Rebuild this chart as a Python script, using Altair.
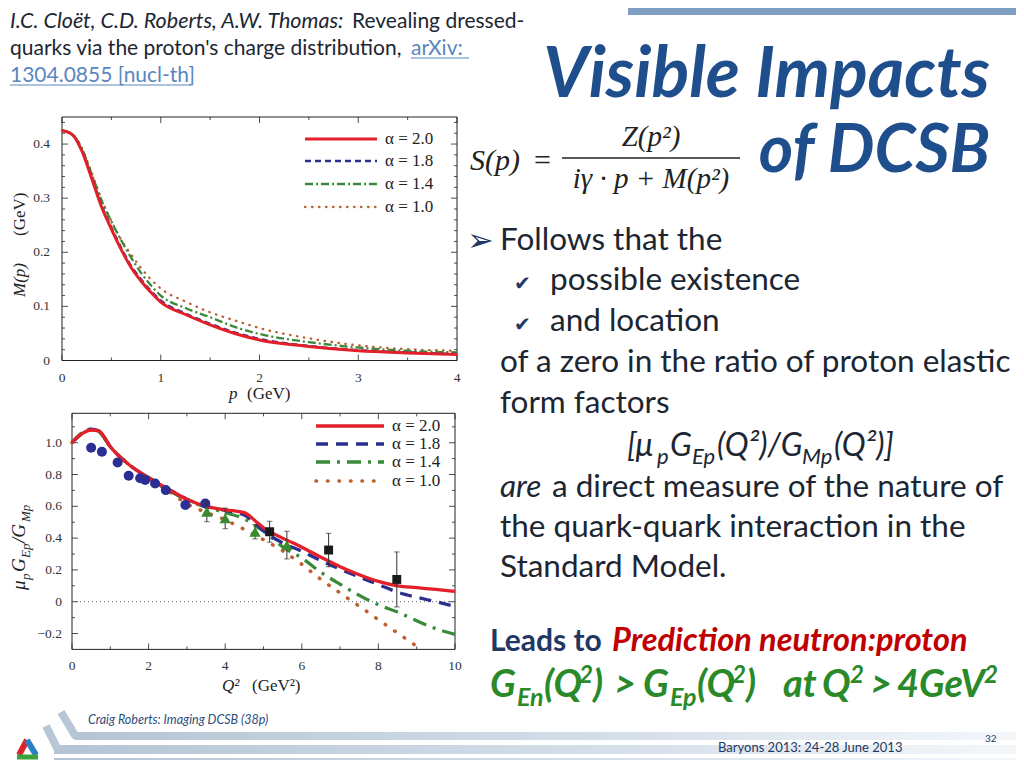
import altair as alt
import pandas as pd

OFF = 8  # page margin

# ---------------- data: panel 1, M(p) ----------------
p_vals = [0, 0.1, 0.2, 0.3, 0.4, 0.5, 0.6, 0.7, 0.8, 0.9, 1.0, 1.25, 1.5, 1.75, 2.0, 2.5, 3.0, 3.5, 4.0]
M_a20 = [0.425, 0.418, 0.388, 0.337, 0.284, 0.243, 0.205, 0.172, 0.147, 0.126, 0.108, 0.085, 0.066, 0.050, 0.038, 0.026, 0.018, 0.014, 0.011]
M_a18 = [0.425, 0.418, 0.389, 0.339, 0.287, 0.246, 0.208, 0.175, 0.150, 0.129, 0.111, 0.087, 0.068, 0.052, 0.040, 0.027, 0.019, 0.015, 0.012]
M_a14 = [0.425, 0.419, 0.392, 0.345, 0.296, 0.257, 0.222, 0.190, 0.162, 0.139, 0.120, 0.097, 0.080, 0.062, 0.049, 0.034, 0.024, 0.018, 0.015]
M_a10 = [0.425, 0.419, 0.393, 0.347, 0.298, 0.258, 0.223, 0.196, 0.171, 0.150, 0.133, 0.109, 0.089, 0.074, 0.060, 0.041, 0.028, 0.021, 0.018]

# ---------------- data: panel 2, mu_p G_Ep / G_Mp ----------------
Q_vals = [0, 0.25, 0.5, 0.7, 1.0, 1.5, 2.0, 2.5, 3.0, 3.5, 4.0, 4.5, 4.8, 5.0, 5.5, 6.0, 6.5, 7.0, 7.5, 8.0, 8.5, 9.0, 9.5, 10]
R_a20 = [1.0, 1.055, 1.08, 1.075, 0.975, 0.86, 0.78, 0.71, 0.645, 0.6, 0.578, 0.56, 0.505, 0.465, 0.40, 0.343, 0.28, 0.22, 0.17, 0.128, 0.10, 0.088, 0.077, 0.065]
R_a18 = [1.0, 1.055, 1.085, 1.075, 0.975, 0.86, 0.78, 0.71, 0.645, 0.6, 0.575, 0.545, 0.49, 0.445, 0.37, 0.318, 0.258, 0.205, 0.155, 0.108, 0.06, 0.028, 0.0, -0.03]
R_a14 = [1.0, 1.06, 1.085, 1.07, 0.975, 0.86, 0.78, 0.705, 0.64, 0.595, 0.56, 0.52, 0.475, 0.445, 0.345, 0.275, 0.185, 0.11, 0.04, -0.02, -0.065, -0.12, -0.17, -0.205]
Q_a10 = [0, 0.25, 0.5, 0.7, 1.0, 1.5, 2.0, 2.5, 3.0, 3.5, 4.0, 4.5, 5.0, 5.5, 6.0, 6.5, 7.0, 7.5, 8.0, 8.5, 9.0]
R_a10 = [1.0, 1.055, 1.08, 1.07, 0.975, 0.86, 0.775, 0.70, 0.615, 0.562, 0.515, 0.455, 0.39, 0.32, 0.235, 0.14, 0.055, -0.028, -0.113, -0.197, -0.28]

circ_Q = [0.5, 0.78, 1.19, 1.48, 1.78, 1.91, 2.17, 2.45, 2.96, 3.48]
circ_R = [0.968, 0.943, 0.876, 0.792, 0.776, 0.765, 0.744, 0.702, 0.608, 0.618]
tri_Q = [3.52, 4.0, 4.78, 5.61]
tri_R = [0.566, 0.524, 0.44, 0.356]
tri_E = [0.063, 0.065, 0.045, 0.087]
sq_Q = [5.16, 6.7, 8.48]
sq_R = [0.44, 0.325, 0.14]
sq_E = [0.066, 0.105, 0.173]

alpha_labels = ["α = 2.0", "α = 1.8", "α = 1.4", "α = 1.0"]

# tick values / labels
x1_major = [0, 1, 2, 3, 4]
x1_labels = ["0", "1", "2", "3", "4"]
x1_minor = [0.5, 1.5, 2.5, 3.5]
y1_major = [0, 0.1, 0.2, 0.3, 0.4]
y1_labels = ["0", "0.1", "0.2", "0.3", "0.4"]
y1_minor = [0.02, 0.04, 0.06, 0.08, 0.12, 0.14, 0.16, 0.18, 0.22, 0.24, 0.26, 0.28,
            0.32, 0.34, 0.36, 0.38, 0.42, 0.44]
x2_major = [0, 2, 4, 6, 8, 10]
x2_labels = ["0", "2", "4", "6", "8", "10"]
x2_minor = [1, 3, 5, 7, 9]
y2_major = [-0.2, 0, 0.2, 0.4, 0.6, 0.8, 1.0]
y2_labels = ["−0.2", "0", "0.2", "0.4", "0.6", "0.8", "1.0"]
y2_minor = [-0.1, 0.1, 0.3, 0.5, 0.7, 0.9, 1.1]

# ---------------- styles ----------------
RED, BLUE, GREEN, ORANGE = "#e3202a", "#2b2f8f", "#3a8a3a", "#bf5f2f"
SERIF = "Liberation Serif"
SANS = "Lato"
DARK = "#1c2632"
NAVY = "#1f3864"
TITLE = "#1f4e8c"
INK = "#222222"

ONE = alt.Data(values=[{"k": 0}])


def P(v):
    return v - OFF


def txt(s, x, y, size, color=DARK, font=SANS, weight="normal", style="normal",
        align="left", baseline="alphabetic", angle=None):
    mk = dict(text=s, fontSize=size, color=color, font=font, fontWeight=weight,
              fontStyle=style, align=align, baseline=baseline)
    if angle is not None:
        mk["angle"] = angle
    return alt.Chart(ONE).mark_text(**mk).encode(x=alt.value(P(x)), y=alt.value(P(y)))


def seg(x1, y1, x2, y2, color, width, dash=None, cap="butt"):
    mk = dict(color=color, strokeWidth=width, strokeCap=cap)
    if dash:
        mk["strokeDash"] = dash
    return alt.Chart(ONE).mark_rule(**mk).encode(
        x=alt.value(P(x1)), y=alt.value(P(y1)), x2=alt.value(P(x2)), y2=alt.value(P(y2)))


def box(x1, y1, x2, y2, fill=None, stroke=None, sw=1):
    mk = {}
    if fill is not None:
        mk["color"] = fill
    else:
        mk["filled"] = False
        mk["stroke"] = stroke
        mk["strokeWidth"] = sw
    return alt.Chart(ONE).mark_rect(**mk).encode(
        x=alt.value(P(x1)), y=alt.value(P(y1)), x2=alt.value(P(x2)), y2=alt.value(P(y2)))


def line(xs, ys, xsc, ysc, color, width, dash=None, cap="butt"):
    df = pd.DataFrame({"x": xs, "y": ys})
    mk = dict(color=color, strokeWidth=width, interpolate="monotone", strokeCap=cap)
    if dash:
        mk["strokeDash"] = dash
    return alt.Chart(df).mark_line(**mk).encode(
        x=alt.X("x:Q", scale=xsc, axis=None), y=alt.Y("y:Q", scale=ysc, axis=None))


def panel_axes(xsc, ysc, L, R, B, T, xmaj, xlab, xmin, ymaj, ylab, ymin, xlab_dy, ylab_dx, fsize):
    layers = [box(L, T, R, B, stroke=INK, sw=1)]
    for vals, ln in [(xmaj, 6), (xmin, 3)]:
        d = pd.DataFrame({"v": vals})
        for y0, y1 in [(B, B - ln), (T, T + ln)]:
            layers.append(alt.Chart(d).mark_rule(color=INK, strokeWidth=0.8).encode(
                x=alt.X("v:Q", scale=xsc, axis=None), y=alt.value(P(y0)), y2=alt.value(P(y1))))
    for vals, ln in [(ymaj, 6), (ymin, 3)]:
        d = pd.DataFrame({"v": vals})
        for x0, x1 in [(L, L + ln), (R, R - ln)]:
            layers.append(alt.Chart(d).mark_rule(color=INK, strokeWidth=0.8).encode(
                y=alt.Y("v:Q", scale=ysc, axis=None), x=alt.value(P(x0)), x2=alt.value(P(x1))))
    dx = pd.DataFrame({"v": xmaj, "lab": xlab})
    layers.append(alt.Chart(dx).mark_text(font=SERIF, fontSize=fsize, color="#333333",
                                          baseline="alphabetic").encode(
        x=alt.X("v:Q", scale=xsc, axis=None), y=alt.value(P(B + xlab_dy)), text="lab:N"))
    dy = pd.DataFrame({"v": ymaj, "lab": ylab})
    layers.append(alt.Chart(dy).mark_text(font=SERIF, fontSize=fsize, color="#333333",
                                          align="right", baseline="middle").encode(
        y=alt.Y("v:Q", scale=ysc, axis=None), x=alt.value(P(L - ylab_dx)), text="lab:N"))
    return layers


# ---------------- panel 1 ----------------
L1, R1, B1, T1 = 62, 457, 360.5, 117
xs1 = alt.Scale(domain=[0, 4], range=[P(L1), P(R1)], nice=False, zero=False)
ys1 = alt.Scale(domain=[0, 0.45], range=[P(B1), P(T1)], nice=False, zero=False)

styles1 = [(RED, 3.0, None, "butt"), (BLUE, 2.3, [6, 4], "butt"),
           (GREEN, 2.3, [8, 3, 2, 3], "butt"), (ORANGE, 2.3, [0.5, 6.5], "round")]
series1 = [M_a20, M_a18, M_a14, M_a10]

p1_layers = panel_axes(xs1, ys1, L1, R1, B1, T1, x1_major, x1_labels, x1_minor,
                       y1_major, y1_labels, y1_minor, 21, 12, 13.5)
for ys, st in zip(series1[::-1], styles1[::-1]):
    p1_layers.append(line(p_vals, ys, xs1, ys1, *st))
leg1_y = [139, 161, 184, 207]
for lab, yy, st in zip(alpha_labels, leg1_y, styles1):
    p1_layers.append(seg(305, yy, 377, yy, st[0], st[1], st[2], st[3]))
    p1_layers.append(txt(lab, 385, yy + 5, 17, color=INK, font=SERIF))
p1_layers.append(txt("M(p)", 25, 297, 17, color=INK, font=SERIF, style="italic", angle=270))
p1_layers.append(txt("(GeV)", 25, 236, 17, color=INK, font=SERIF, angle=270))
p1_layers.append(txt("p", 229, 399, 17, color=INK, font=SERIF, style="italic"))
p1_layers.append(txt("(GeV)", 247, 399, 17, color=INK, font=SERIF))
panel1 = alt.layer(*p1_layers)

# ---------------- panel 2 ----------------
L2, R2, B2, T2 = 72, 455, 649.4, 413.3
xs2 = alt.Scale(domain=[0, 10], range=[P(L2), P(R2)], nice=False, zero=False)
ys2 = alt.Scale(domain=[-0.3, 1.185], range=[P(B2), P(T2)], nice=False, zero=False)

styles2 = [(RED, 3.3, None, "butt"), (BLUE, 3.3, [12, 8], "butt"),
           (GREEN, 3.3, [14, 7, 3, 7], "butt"), (ORANGE, 3.6, [0.5, 11], "round")]

p2_layers = panel_axes(xs2, ys2, L2, R2, B2, T2, x2_major, x2_labels, x2_minor,
                       y2_major, y2_labels, y2_minor, 20.5, 10, 13.5)
zero_df = pd.DataFrame({"x0": [0], "x1": [10], "y": [0]})
p2_layers.append(alt.Chart(zero_df).mark_rule(color="#666666", strokeWidth=1, strokeDash=[1, 3]).encode(
    x=alt.X("x0:Q", scale=xs2, axis=None), x2="x1:Q", y=alt.Y("y:Q", scale=ys2, axis=None)))
p2_layers.append(line(Q_a10, R_a10, xs2, ys2, *styles2[3]))
p2_layers.append(line(Q_vals, R_a14, xs2, ys2, *styles2[2]))
p2_layers.append(line(Q_vals, R_a18, xs2, ys2, *styles2[1]))
p2_layers.append(line(Q_vals, R_a20, xs2, ys2, *styles2[0]))

circ_df = pd.DataFrame({"q": circ_Q, "r": circ_R})
p2_layers.append(alt.Chart(circ_df).mark_circle(size=100, color="#2b2f95", opacity=1).encode(
    x=alt.X("q:Q", scale=xs2, axis=None), y=alt.Y("r:Q", scale=ys2, axis=None)))
tri_df = pd.DataFrame({"q": tri_Q, "r": tri_R, "lo": [r - e for r, e in zip(tri_R, tri_E)],
                       "hi": [r + e for r, e in zip(tri_R, tri_E)]})
sq_df = pd.DataFrame({"q": sq_Q, "r": sq_R, "lo": [r - e for r, e in zip(sq_R, sq_E)],
                      "hi": [r + e for r, e in zip(sq_R, sq_E)]})
for d in (tri_df, sq_df):
    p2_layers.append(alt.Chart(d).mark_rule(color="#333333", strokeWidth=1).encode(
        x=alt.X("q:Q", scale=xs2, axis=None), y=alt.Y("lo:Q", scale=ys2, axis=None), y2="hi:Q"))
    for f in ("lo", "hi"):
        p2_layers.append(alt.Chart(d).mark_point(shape="stroke", size=30, color="#333333",
                                                 strokeWidth=1).encode(
            x=alt.X("q:Q", scale=xs2, axis=None), y=alt.Y(f + ":Q", scale=ys2, axis=None)))
p2_layers.append(alt.Chart(tri_df).mark_point(shape="triangle-up", filled=True, size=130,
                                              color="#3b8a2e", opacity=1).encode(
    x=alt.X("q:Q", scale=xs2, axis=None), y=alt.Y("r:Q", scale=ys2, axis=None)))
p2_layers.append(alt.Chart(sq_df).mark_square(size=80, color="#1a1a1a", opacity=1).encode(
    x=alt.X("q:Q", scale=xs2, axis=None), y=alt.Y("r:Q", scale=ys2, axis=None)))

leg2_y = [426, 444, 462, 481]
for lab, yy, st in zip(alpha_labels, leg2_y, styles2):
    p2_layers.append(seg(316, yy, 384, yy, st[0], st[1], st[2], st[3]))
    p2_layers.append(txt(lab, 392, yy + 5, 17, color=INK, font=SERIF))
# y title: mu_p G_Ep / G_Mp (rotated)
p2_layers += [
    txt("μ", 25, 590, 19, color=INK, font=SERIF, style="italic", angle=270),
    txt("p", 30, 580, 13, color=INK, font=SERIF, style="italic", angle=270),
    txt("G", 25, 572, 19, color=INK, font=SERIF, style="italic", angle=270),
    txt("Ep", 30, 558, 13, color=INK, font=SERIF, style="italic", angle=270),
    txt("/G", 25, 543, 19, color=INK, font=SERIF, style="italic", angle=270),
    txt("Mp", 30, 522, 13, color=INK, font=SERIF, style="italic", angle=270),
    txt("Q²", 222, 691, 17, color=INK, font=SERIF, style="italic"),
    txt("(GeV²)", 252, 691, 17, color=INK, font=SERIF),
]
panel2 = alt.layer(*p2_layers)

# ---------------- slide decoration and text ----------------
grad = alt.Gradient(gradient="linear", x1=0, x2=1, y1=0, y2=0,
                    stops=[alt.GradientStop(color="#b4c4d4", offset=0),
                           alt.GradientStop(color="#d6e0ea", offset=0.6),
                           alt.GradientStop(color="#f4f7fa", offset=1)])
deco = [
    box(628, 8, 1016, 15, fill="#7f9fc2"),
    # footer bands
    alt.Chart(ONE).mark_rect(color=grad).encode(x=alt.value(P(74)), x2=alt.value(P(1016)),
                                                y=alt.value(P(732)), y2=alt.value(P(740))),
    alt.Chart(ONE).mark_rect(color=grad).encode(x=alt.value(P(54)), x2=alt.value(P(1016)),
                                                y=alt.value(P(745)), y2=alt.value(P(754))),
    alt.Chart(ONE).mark_rect(color=grad).encode(x=alt.value(P(54)), x2=alt.value(P(1016)),
                                                y=alt.value(P(758)), y2=alt.value(P(760))),
    seg(61, 712, 76, 737, "#b8c7d6", 8),
    seg(46, 726, 58, 750, "#b8c7d6", 8),
    # logo
    seg(27, 740, 19, 755, "#d9262c", 6),
    seg(27, 740, 36, 755, "#2a7fc0", 6),
    seg(17, 757, 38, 757, "#3aa33a", 5),
]

texts = [
    # citation
    txt("I.C. Cloët, C.D. Roberts, A.W. Thomas:", 10, 28, 21.5, style="italic"),
    txt("Revealing dressed-", 352, 28, 21),
    txt("quarks via the proton's charge distribution,", 10, 55, 21),
    txt("arXiv:", 411, 55, 21, color="#5a86c0"),
    seg(411, 58, 469, 58, "#5a86c0", 1),
    txt("1304.0855 [nucl-th]", 10, 82, 21, color="#5a86c0"),
    seg(10, 85, 191, 85, "#5a86c0", 1),
    # title
    txt("Visible Impacts", 990, 97, 70, color=TITLE, weight="bold", style="italic", align="right"),
    txt("of DCSB", 990, 172, 66, color=TITLE, weight="bold", style="italic", align="right"),
    # equation
    txt("S(p)", 470, 170, 30, color=INK, font=SERIF, style="italic"),
    txt("=", 534, 170, 30, color=INK, font=SERIF),
    txt("Z(p²)", 651, 146, 29, color=INK, font=SERIF, style="italic", align="center"),
    seg(562, 158, 740, 158, INK, 1.5),
    txt("iγ · p  +  M(p²)", 651, 188, 29, color=INK, font=SERIF, style="italic", align="center"),
    # bullets
    txt("➢", 467, 251, 32, color=NAVY, font="DejaVu Sans"),
    txt("Follows that the", 500, 250, 31.5),
    txt("✔", 514, 290, 20, color=NAVY, font="DejaVu Sans"),
    txt("possible existence", 550, 290, 31.5),
    txt("✔", 514, 331, 20, color=NAVY, font="DejaVu Sans"),
    txt("and location", 550, 331, 31.5),
    txt("of a zero in the ratio of proton elastic", 500, 372, 31.5),
    txt("form factors", 500, 413, 31.5),
    # [mu_p G_Ep(Q2)/G_Mp(Q2)]
    txt("[μ", 627, 456, 32, style="italic"),
    txt("p", 657, 464, 22, style="italic"),
    txt("G", 670, 456, 32, style="italic"),
    txt("Ep", 692, 464, 22, style="italic"),
    txt("(Q²)/G", 717, 456, 32, style="italic"),
    txt("Mp", 802, 464, 22, style="italic"),
    txt("(Q²)]", 834, 456, 32, style="italic"),
    txt("are", 500, 497, 31.5, style="italic"),
    txt("a direct measure of the nature of", 552, 497, 31.5),
    txt("the quark-quark interaction in the", 500, 537, 31.5),
    txt("Standard Model.", 500, 577, 31.5),
    # conclusion
    txt("Leads to", 490, 651, 30, color=NAVY, weight="bold"),
    txt("Prediction neutron:proton", 612, 651, 32.5, color="#c00000", weight="bold", style="italic"),
]
GR = "#2a8a2a"
# (text, x, kind) kind: 0 main, 1 subscript, 2 superscript
green_parts = [
    ("G", 490, 0), ("En", 517, 1), ("(Q", 544, 0), ("2", 579, 2), (")", 593, 0), (">", 614, 0),
    ("G", 643, 0), ("Ep", 670, 1), ("(Q", 697, 0), ("2", 732, 2), (")", 746, 0),
    ("at", 783, 0), ("Q", 822, 0), ("2", 850, 2), (">", 870, 0), ("4GeV", 897, 0), ("2", 984, 2),
]
for s, x, kind in green_parts:
    if kind == 0:
        texts.append(txt(s, x, 697, 38, color=GR, weight="bold", style="italic"))
    elif kind == 1:
        texts.append(txt(s, x, 706, 25, color=GR, weight="bold", style="italic"))
    else:
        texts.append(txt(s, x, 683, 24, color=GR, weight="bold", style="italic"))

texts += [
    txt("Craig Roberts: Imaging DCSB (38p)", 88, 724, 12.5, color="#2a4d7a", style="italic"),
    txt("Baryons 2013: 24-28 June 2013", 718, 752, 13, color=NAVY),
    txt("32", 985, 742, 10, color=NAVY),
]

chart = alt.layer(panel1, panel2, *deco, *texts).resolve_scale(
    x="independent", y="independent"
).properties(
    width=1008, height=752, autosize=alt.AutoSizeParams(type="none"), padding=0,
    background="white"
).configure_view(stroke=None)

chart.save("out.html", embed_options={"renderer": "svg", "actions": False})
